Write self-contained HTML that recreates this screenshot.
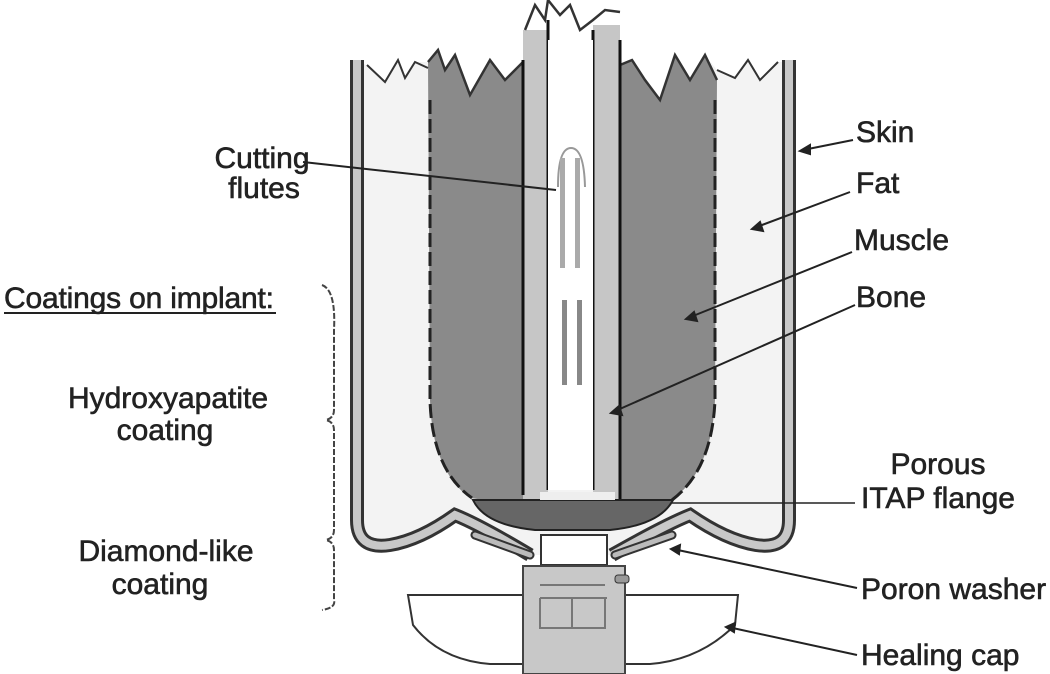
<!DOCTYPE html>
<html><head><style>
body{margin:0;background:#fff;}
svg{display:block;}
text{font-family:"Liberation Sans",Arial,sans-serif;font-size:30px;fill:#222;stroke:#222;stroke-width:0.6;}
</style></head><body>
<svg width="1050" height="674" viewBox="0 0 1050 674" xmlns="http://www.w3.org/2000/svg">
<!-- fat region -->
<path d="M357,62 L789,62 L789,520 Q789,550 756,545 Q726,540 690,515 Q665,525 612,555 L530,555 Q480,525 455,515 Q420,540 390,545 Q357,550 357,520 Z" fill="#f3f3f3"/>
<!-- white above jags -->
<path d="M357,30 L357,62 L367,65 L385,82 L398,60 L405,78 L415,62 L428,62 L438,50 L445,70 L455,55 L470,95 L490,60 L505,80 L523,62 L523,30 Z" fill="#fff"/>
<path d="M620,30 L620,65 L632,60 L645,80 L660,100 L675,55 L690,80 L705,55 L717,70 L735,78 L748,60 L760,80 L778,62 L789,62 L789,30 Z" fill="#fff"/>
<!-- muscle -->
<path d="M428,62 L438,50 L445,70 L455,55 L470,95 L490,60 L505,80 L523,62 L523,505 L470,498 Q432,470 430,400 Z" fill="#8a8a8a"/>
<path d="M620,65 L632,60 L645,80 L660,100 L675,55 L690,80 L705,55 L717,80 L715,400 Q712,470 672,500 L620,505 Z" fill="#8a8a8a"/>
<path d="M428,62 L438,50 L445,70 L455,55 L470,95 L490,60 L505,80 L523,62" fill="none" stroke="#333" stroke-width="2.5"/>
<path d="M620,65 L632,60 L645,80 L660,100 L675,55 L690,80 L705,55 L717,80" fill="none" stroke="#333" stroke-width="2.5"/>
<path d="M430,100 L430,400 Q432,470 472,498" fill="none" stroke="#222" stroke-width="3" stroke-dasharray="14 5"/>
<path d="M715,100 L715,400 Q712,470 672,500" fill="none" stroke="#222" stroke-width="3" stroke-dasharray="14 5"/>
<!-- fat top jagged -->
<path d="M367,65 L385,82 L398,60 L405,78 L415,62 L428,68" fill="none" stroke="#333" stroke-width="2"/>
<path d="M717,70 L735,78 L748,60 L760,80 L778,62" fill="none" stroke="#333" stroke-width="2"/>
<!-- bone -->
<rect x="523" y="30" width="25" height="475" fill="#c6c6c6"/>
<rect x="593" y="25" width="27" height="480" fill="#c6c6c6"/>
<path d="M525,30 L535,5 L545,20 L548,0 L560,15 L570,5 L580,30 L593,20 L605,10 L620,12" fill="none" stroke="#333" stroke-width="2.5"/>
<line x1="523" y1="60" x2="523" y2="495" stroke="#111" stroke-width="3"/>
<line x1="548" y1="20" x2="548" y2="490" stroke="#111" stroke-width="3"/>
<line x1="593" y1="30" x2="593" y2="490" stroke="#111" stroke-width="3"/>
<line x1="620" y1="40" x2="620" y2="505" stroke="#111" stroke-width="3"/>
<rect x="548" y="40" width="45" height="450" fill="#fff"/>
<!-- flutes -->
<path d="M558,187 Q558,148 571,148 Q584,148 585,187" fill="none" stroke="#999" stroke-width="2"/>
<rect x="560" y="158" width="5" height="110" fill="#aaa"/>
<rect x="575" y="158" width="5" height="110" fill="#aaa"/>
<rect x="562" y="300" width="5" height="85" fill="#888"/>
<rect x="577" y="300" width="5" height="85" fill="#888"/>
<!-- skin -->
<path d="M357,60 L357,520 Q357,550 390,545 Q420,540 455,515 Q480,525 530,555" fill="none" stroke="#333" stroke-width="14"/>
<path d="M357,60 L357,520 Q357,550 390,545 Q420,540 455,515 Q480,525 530,555" fill="none" stroke="#c8c8c8" stroke-width="8"/>
<path d="M789,60 L789,520 Q789,550 756,545 Q726,540 690,515 Q665,525 612,555" fill="none" stroke="#333" stroke-width="14"/>
<path d="M789,60 L789,520 Q789,550 756,545 Q726,540 690,515 Q665,525 612,555" fill="none" stroke="#c8c8c8" stroke-width="8"/>
<!-- washers -->
<path d="M475,535 L530,555" stroke="#333" stroke-width="9" stroke-linecap="round"/>
<path d="M475,535 L530,555" stroke="#bbb" stroke-width="5" stroke-linecap="round"/>
<path d="M672,535 L615,555" stroke="#333" stroke-width="9" stroke-linecap="round"/>
<path d="M672,535 L615,555" stroke="#bbb" stroke-width="5" stroke-linecap="round"/>
<!-- flange -->
<path d="M473,500 L673,500 Q660,525 610,530 L535,530 Q485,525 473,500 Z" fill="#666" stroke="#222" stroke-width="2"/>
<rect x="540" y="492" width="75" height="8" fill="#eee"/>
<!-- abutment -->
<rect x="541" y="535" width="66" height="30" fill="#fff" stroke="#333" stroke-width="2"/>
<!-- healing cap -->
<path d="M408,595 L738,595 L735,625 Q700,660 650,664 L490,664 Q440,660 413,625 Z" fill="#fff" stroke="#333" stroke-width="2"/>
<rect x="523" y="566" width="102" height="108" fill="#c8c8c8" stroke="#444" stroke-width="2"/>
<path d="M540,585 L605,585 M540,598 L607,598 M540,598 L540,628 L605,628 L605,598 M572,598 L572,628" fill="none" stroke="#777" stroke-width="2"/>
<rect x="615" y="575" width="14" height="8" rx="3" fill="#999" stroke="#333"/>
<!-- leaders -->
<g stroke="#222" stroke-width="2" fill="#222">
<line x1="303" y1="162" x2="556" y2="190"/>
<line x1="853" y1="140" x2="803" y2="150"/><polygon points="800,151 810,145 810,154"/>
<line x1="850" y1="192" x2="754" y2="228"/><polygon points="752,229 760,222 763,231"/>
<line x1="852" y1="252" x2="688" y2="318"/><polygon points="686,319 694,312 697,321"/>
<line x1="855" y1="305" x2="613" y2="412"/><polygon points="611,413 619,406 622,415"/>
<line x1="855" y1="503" x2="672" y2="503" stroke-width="1.5"/>
<line x1="857" y1="588" x2="673" y2="549"/><polygon points="671,549 680,545 679,554"/>
<line x1="857" y1="655" x2="728" y2="627"/><polygon points="726,627 735,623 734,632"/>
</g>
<!-- brace -->
<path d="M322,285 Q336,290 334,330 L334,410 Q334,418 326,420 Q334,422 334,430 L334,530 Q334,538 326,540 Q334,542 334,550 L334,600 Q336,608 322,610" fill="none" stroke="#444" stroke-width="2" stroke-dasharray="6 2"/>
<!-- labels -->
<text x="262" y="168" text-anchor="middle">Cutting</text>
<text x="264" y="198" text-anchor="middle">flutes</text>
<text x="856" y="142">Skin</text>
<text x="856" y="193">Fat</text>
<text x="854" y="250">Muscle</text>
<text x="856" y="307">Bone</text>
<text x="4" y="308" textLength="270">Coatings on implant:</text>
<line x1="4" y1="313" x2="276" y2="313" stroke="#222" stroke-width="2"/>
<text x="168" y="408" text-anchor="middle">Hydroxyapatite</text>
<text x="165" y="440" text-anchor="middle">coating</text>
<text x="938" y="474" text-anchor="middle">Porous</text>
<text x="938" y="508" text-anchor="middle">ITAP flange</text>
<text x="166" y="561" text-anchor="middle">Diamond-like</text>
<text x="160" y="594" text-anchor="middle">coating</text>
<text x="861" y="599">Poron washer</text>
<text x="861" y="665">Healing cap</text>
</svg>
</body></html>
